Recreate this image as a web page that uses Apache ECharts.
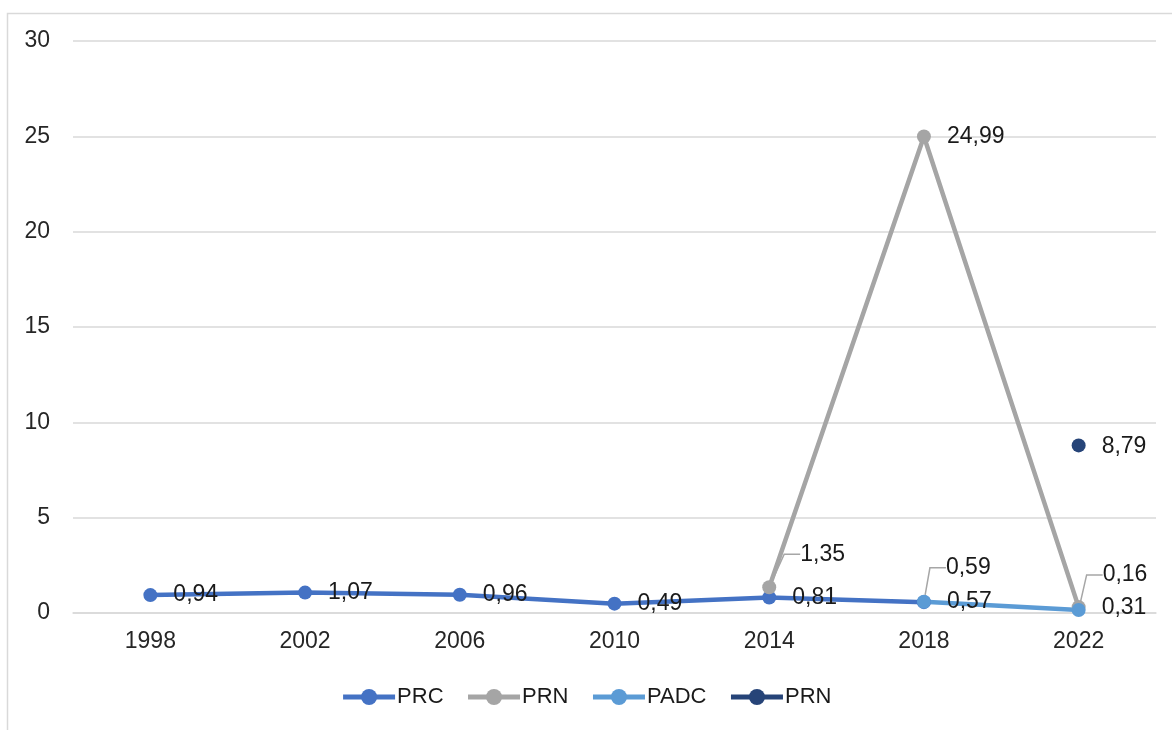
<!DOCTYPE html>
<html>
<head>
<meta charset="utf-8">
<script src="https://cdn.jsdelivr.net/npm/echarts@6/dist/echarts.min.js"></script>
<style>
  html, body { margin: 0; padding: 0; background: #fff; }
  #main { width: 1172px; height: 730px; }
</style>
</head>
<body>
<div id="main"></div>
<script>
var years = ['1998', '2002', '2006', '2010', '2014', '2018', '2022'];
var prc = [0.94, 1.07, 0.96, 0.49, 0.81, 0.57, null];
var prnGray = [null, null, null, null, 1.35, 24.99, 0.31];
var padc = [null, null, null, null, null, 0.59, 0.16];
var prnDark = [null, null, null, null, null, null, 8.79];
var legendNames = { PRC: 'PRC', PRN1: 'PRN', PADC: 'PADC', PRN2: 'PRN' };

var chart = echarts.init(document.getElementById('main'));
var font = 'Liberation Sans, Arial, sans-serif';

// per-point label tweaks: [dx, dy, guide line?]
var tweaks = {
  PRN1: { 4: [8, -33, true], 5: [0, 0], 6: [0, 1] },
  PADC: { 5: [-1, -34, true], 6: [1, -35, true] },
  PRN2: { 6: [0, 1] }
};

function makeSeries(name, data, color) {
  var t = tweaks[name] || {};
  var items = data.map(function (v, i) {
    var k = t[i];
    if (v == null || !k) return v;
    return {
      value: v,
      label: { offset: [0, 0] },
      labelLine: { show: !!k[2] }
    };
  });
  return {
    name: name,
    type: 'line',
    data: items,
    color: color,
    symbol: 'circle',
    symbolSize: 14,
    lineStyle: { width: 4.5, color: color },
    itemStyle: { color: color },
    label: {
      show: true,
      position: 'right',
      distance: 16,
      offset: [0, 5],
      fontSize: 23,
      color: '#1a1a1a',
      fontFamily: font,
      formatter: function (p) { return String(p.value).replace('.', ','); }
    },
    labelLine: { show: false, lineStyle: { color: '#a6a6a6', width: 1.5 }, length2: 16, smooth: false },
    labelLayout: function (p) {
      var k = t[p.dataIndex];
      if (k) return { dx: k[0], dy: k[1] };
      return {};
    },
    emphasis: { disabled: true }
  };
}

var option = {
  animation: false,
  backgroundColor: '#fff',
  textStyle: { fontFamily: font },
  graphic: [{
    type: 'rect',
    shape: { x: 7.5, y: 13.5, width: 1250, height: 800 },
    style: { fill: 'none', stroke: '#d9d9d9', lineWidth: 1.5 },
    silent: true
  }],
  grid: { left: 73, right: 16, top: 41, bottom: 117, containLabel: false },
  legend: {
    bottom: 17,
    left: 'center',
    itemWidth: 52,
    itemHeight: 20,
    itemGap: 22,
    data: ['PRC', 'PRN1', 'PADC', 'PRN2'],
    formatter: function (n) { return legendNames[n]; },
    lineStyle: { width: 5 },
    textStyle: { fontSize: 22, color: '#1a1a1a', fontFamily: font, padding: [0, 0, 0, -3] }
  },
  xAxis: {
    type: 'category',
    data: years,
    boundaryGap: true,
    axisLine: { show: true, lineStyle: { color: '#d9d9d9', width: 1.5 } },
    axisTick: { show: false },
    axisLabel: { fontSize: 23, color: '#262626', margin: 17, fontFamily: font }
  },
  yAxis: {
    type: 'value',
    min: 0,
    max: 30,
    interval: 5,
    axisLine: { show: false },
    axisTick: { show: false },
    splitLine: { lineStyle: { color: '#d9d9d9', width: 1.5 } },
    axisLabel: { fontSize: 23, color: '#262626', margin: 23, fontFamily: font }
  },
  series: [
    makeSeries('PRC', prc, '#4472c4'),
    makeSeries('PRN1', prnGray, '#a5a5a5'),
    makeSeries('PADC', padc, '#5b9bd5'),
    makeSeries('PRN2', prnDark, '#264478')
  ]
};
chart.setOption(option);
</script>
</body>
</html>
